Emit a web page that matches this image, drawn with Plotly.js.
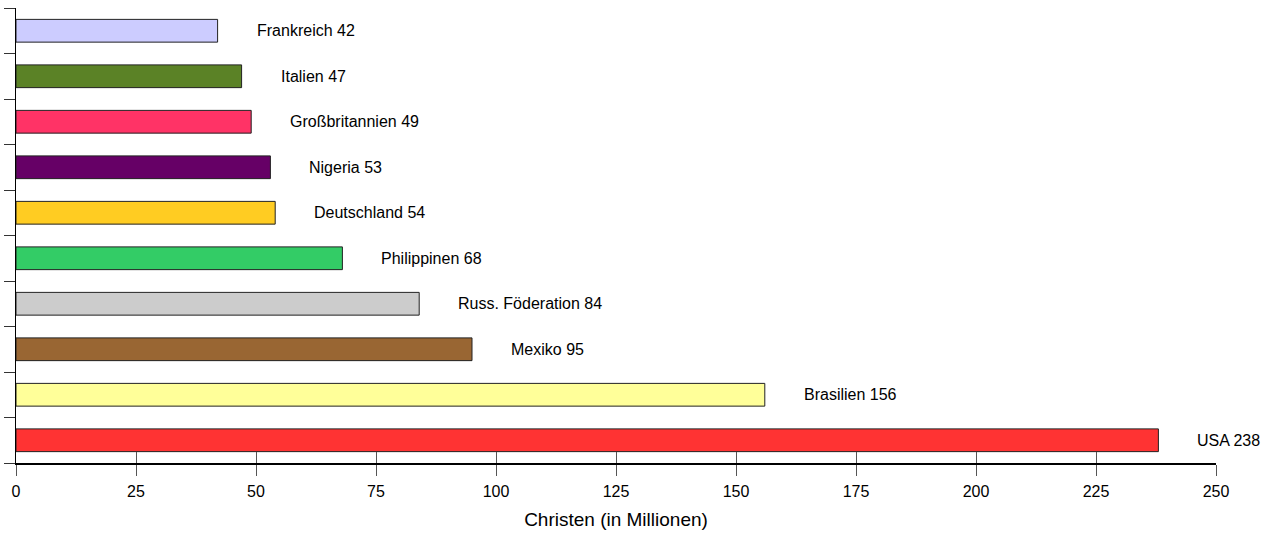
<!DOCTYPE html>
<html>
<head>
<meta charset="utf-8">
<script src="https://cdn.plot.ly/plotly-3.0.1.min.js"></script>
<style>html,body{margin:0;padding:0;background:#fff;}#chart{width:1273px;height:533px;}</style>
</head>
<body>
<div id="chart"></div>
<script>
// Data (bottom to top)
const countries = ["USA", "Brasilien", "Mexiko", "Russ. Föderation", "Philippinen", "Deutschland", "Nigeria", "Großbritannien", "Italien", "Frankreich"];
const christians = [238, 156, 95, 84, 68, 54, 53, 49, 47, 42];
const barColors = ["#ff3333", "#ffff99", "#996633", "#cccccc", "#33cc66", "#ffcc22", "#660066", "#ff3366", "#5b8226", "#ccccff"];
const xTickValues = [0, 25, 50, 75, 100, 125, 150, 175, 200, 225, 250];
const xTitle = "Christen (in Millionen)";

const font = "Liberation Sans, Arial, sans-serif";

const trace = {
  type: "bar",
  orientation: "h",
  x: christians,
  y: countries,
  width: 0.5,
  marker: {color: barColors, line: {color: "#222", width: 1}},
  hoverinfo: "none"
};

// invisible helper trace so the overlaid axis (inner tick marks) is drawn
const helper = {
  type: "scatter", mode: "markers", x: [], y: [], xaxis: "x2", yaxis: "y",
  hoverinfo: "none", showlegend: false
};

const annotations = countries.map((c, i) => ({
  x: christians[i], y: c, xref: "x", yref: "y",
  text: c + " " + christians[i],
  showarrow: false, xanchor: "left", yanchor: "middle", xshift: 37,
  font: {family: font, size: 16, color: "#000"}
}));

const layout = {
  width: 1273, height: 533,
  margin: {l: 16, r: 57, t: 8, b: 70},
  paper_bgcolor: "#fff", plot_bgcolor: "#fff",
  showlegend: false,
  font: {family: font, size: 16, color: "#000"},
  xaxis: {
    range: [0, 250], tickvals: xTickValues, ticktext: xTickValues.map(String),
    ticks: "outside", ticklen: 11, tickwidth: 1, tickcolor: "#555",
    ticklabelstandoff: 2,
    showline: true, linecolor: "#000", linewidth: 1.5,
    showgrid: false, zeroline: false,
    tickfont: {family: font, size: 16, color: "#000"},
    title: {text: xTitle, font: {family: font, size: 19, color: "#000"}, standoff: 14}
  },
  xaxis2: {
    overlaying: "x", anchor: "y", side: "bottom",
    range: [0, 250], tickvals: xTickValues,
    ticks: "inside", ticklen: 11, tickwidth: 1, tickcolor: "#555",
    showticklabels: false, showline: false, showgrid: false, zeroline: false
  },
  yaxis: {
    type: "category", categoryarray: countries, categoryorder: "array",
    range: [-0.5, 9.5],
    tickson: "boundaries", ticks: "outside", ticklen: 11, tickwidth: 1, tickcolor: "#333",
    showticklabels: false, showline: true, linecolor: "#000", linewidth: 1.5,
    showgrid: false, zeroline: false
  },
  annotations: annotations
};

Plotly.newPlot("chart", [trace, helper], layout, {displayModeBar: false, staticPlot: true});
</script>
</body>
</html>
